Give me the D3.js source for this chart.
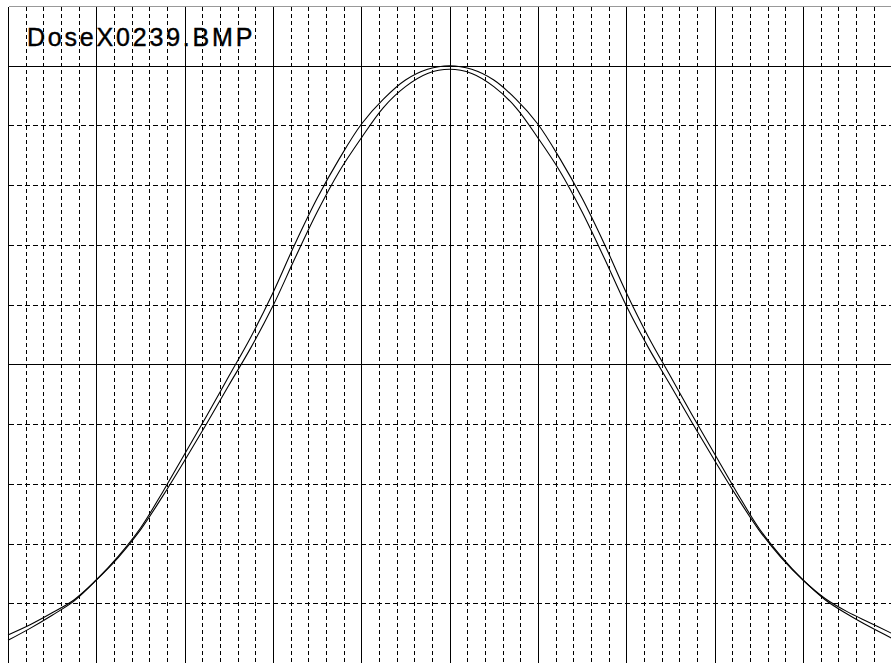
<!DOCTYPE html>
<html>
<head>
<meta charset="utf-8">
<script src="https://cdn.jsdelivr.net/npm/d3@7"></script>
<style>
  body { margin: 0; background: #fff; }
  svg { display: block; }
</style>
</head>
<body>
<svg id="chart" width="891" height="663"></svg>
<script>
title = 'DoseX0239.BMP';

// positions along the profile (major grid units), every 0.25
xPos = [-5, -4.75, -4.5, -4.25, -4, -3.75, -3.5, -3.25, -3, -2.75, -2.5, -2.25, -2, -1.75, -1.5, -1.25, -1, -0.75, -0.5, -0.25,
        0, 0.25, 0.5, 0.75, 1, 1.25, 1.5, 1.75, 2, 2.25, 2.5, 2.75, 3, 3.25, 3.5, 3.75, 4, 4.25, 4.5, 4.75, 5];

// relative dose (%) - wider profile
doseA = [3.8, 5.8, 8.0, 10.4, 13.9, 17.9, 22.6, 28.6, 35.0, 41.4, 48.0, 54.6, 62.0, 70.2, 77.8, 84.4, 90.2, 94.4, 97.6, 99.4,
         100, 99.4, 97.6, 94.4, 90.2, 84.4, 77.8, 70.2, 62.0, 54.6, 48.0, 41.4, 35.0, 28.6, 22.6, 17.9, 13.9, 10.6, 8.2, 6.1, 4.2];

// relative dose (%) - narrower profile
doseB = [4.7, 6.4, 8.4, 10.6, 13.9, 17.7, 22.3, 27.9, 33.9, 40.1, 46.5, 52.8, 59.8, 67.8, 75.5, 82.3, 87.9, 93.0, 96.5, 98.7,
         99.4, 98.7, 96.5, 93.0, 87.9, 82.3, 75.5, 67.8, 59.8, 52.8, 46.5, 40.1, 33.9, 27.9, 22.3, 17.7, 13.9, 10.8, 8.6, 6.8, 5.0];

// grid ticks
xTicks = d3.range(-25, 26).map(function(d) { return d / 5; });
yTicks = d3.range(0, 12).map(function(d) { return d * 10; });
ySolid = [50, 100];

svg = d3.select('#chart');

x = d3.scaleLinear().domain([-5, 5]).range([8, 891.3]);
y = d3.scaleLinear().domain([0, 110]).range([663, 6]);

function px(v) { return Math.round(v) + 0.5; }

grid = svg.append('g').attr('shape-rendering', 'crispEdges');

//vertical grid
grid.selectAll('.vline')
    .data(xTicks)
    .enter().append('line')
    .attr('class', 'vline')
    .attr('x1', function(d) { return px(x(d)); })
    .attr('x2', function(d) { return px(x(d)); })
    .attr('y1', px(y(110)))
    .attr('y2', 663)
    .attr('stroke', '#000')
    .attr('stroke-width', 1)
    .attr('stroke-dasharray', function(d) {
        return Math.abs(d - Math.round(d)) < 1e-6 ? null : '4,3';
    });

//horizontal grid
grid.selectAll('.hline')
    .data(yTicks)
    .enter().append('line')
    .attr('class', 'hline')
    .attr('x1', px(x(-5)))
    .attr('x2', 891)
    .attr('y1', function(d) { return px(y(d)); })
    .attr('y2', function(d) { return px(y(d)); })
    .attr('stroke', function(d) { return d == 110 ? '#999' : '#000'; })
    .attr('stroke-width', 1)
    .attr('stroke-dasharray', function(d) {
        return (ySolid.indexOf(d) >= 0 || d == 110) ? null : '5,3';
    });

line = d3.line()
    .x(function(d) { return x(d[0]); })
    .y(function(d) { return y(d[1]); })
    .curve(d3.curveCatmullRom.alpha(0.5));

[doseA, doseB].forEach(function(s) {
    svg.append('path')
        .datum(xPos.map(function(v, i) { return [v, s[i]]; }))
        .attr('fill', 'none')
        .attr('stroke', '#000')
        .attr('stroke-width', 1.1)
        .attr('d', line);
});

svg.append('text')
    .attr('x', 27)
    .attr('y', 46)
    .attr('font-family', 'Liberation Sans, Arial, sans-serif')
    .attr('font-size', 25)
    .attr('letter-spacing', 2.8)
    .attr('fill', '#000')
    .attr('stroke', '#000')
    .attr('stroke-width', 0.4)
    .text(title);
</script>
</body>
</html>
